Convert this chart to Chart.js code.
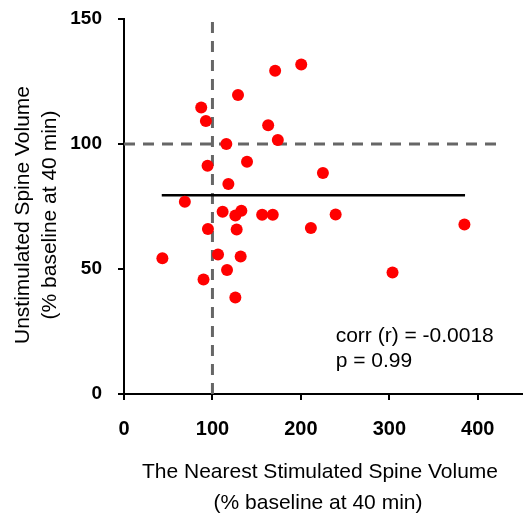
<!DOCTYPE html>
<html>
<head>
<meta charset="utf-8">
<script src="https://cdn.jsdelivr.net/npm/chart.js@4"></script>
<style>
  html, body { margin: 0; padding: 0; background: #fff; }
  #wrap { width: 528px; height: 513px; position: relative; }
</style>
</head>
<body>
<div id="wrap"><canvas id="chart"></canvas></div>
<script>
// Data
const stimVolume = [200.4, 170.9, 128.9, 87.3, 92.6, 163, 173.9, 115.7, 139.1, 94.5,
  224.9, 118, 68.8, 111.5, 132.7, 125.9, 156.2, 168.2, 239.3, 384.9,
  94.9, 127.4, 211.3, 43.4, 106.3, 131.9, 116.5, 89.9, 303.6, 125.9];
const unstimVolume = [131.8, 129.3, 119.6, 114.6, 109.2, 107.5, 101.6, 100, 92.9, 91.3,
  88.4, 84, 76.9, 72.9, 73.3, 71.4, 71.7, 71.7, 71.8, 67.8,
  66, 65.8, 66.4, 54.3, 55.8, 55, 49.6, 45.8, 48.6, 38.6];

const meanLineX = [42.7, 385.6];
const meanLineY = [79.5, 79.5];
const baselineVX = [100, 100];
const baselineVY = [0, 150];
const baselineHX = [0, 426];
const baselineHY = [100, 100];

const xTicks = [0, 100, 200, 300, 400];
const yTicks = [0, 50, 100, 150];

const statLines = ['corr (r) = -0.0018', 'p = 0.99'];
const statX = 239.3;
const statY = [21, 10.9];

const xTitle = ['The Nearest Stimulated Spine Volume', '(% baseline at 40 min)'];
const yTitle = ['Unstimulated Spine Volume', '(% baseline at 40 min)'];

const FONT = '"Liberation Sans", Arial, sans-serif';

function pairs(xs, ys) {
  return xs.map((x, i) => ({ x: x, y: ys[i] }));
}

// draws axis titles and the stats note
const labelsPlugin = {
  id: 'labels',
  afterDraw(chart) {
    const ctx = chart.ctx;
    const xs = chart.scales.x, ys = chart.scales.y;
    ctx.save();
    ctx.fillStyle = '#000';
    ctx.font = '21px ' + FONT;

    ctx.textAlign = 'left';
    ctx.textBaseline = 'alphabetic';
    statLines.forEach((t, i) => {
      ctx.fillText(t, xs.getPixelForValue(statX), ys.getPixelForValue(statY[i]));
    });

    ctx.textAlign = 'center';
    ctx.fillText(xTitle[0], 320, 478);
    ctx.fillText(xTitle[1], 318, 509);

    ctx.translate(0, 215);
    ctx.rotate(-Math.PI / 2);
    ctx.textBaseline = 'middle';
    ctx.fillText(yTitle[0], 0, 23);
    ctx.fillText(yTitle[1], 0, 50);
    ctx.restore();
  }
};

new Chart(document.getElementById('chart'), {
  type: 'scatter',
  data: {
    datasets: [
      {
        data: pairs(stimVolume, unstimVolume),
        backgroundColor: '#ff0000',
        borderColor: '#ff0000',
        borderWidth: 0,
        pointRadius: 6,
        order: 0
      },
      {
        type: 'line',
        data: pairs(meanLineX, meanLineY),
        borderColor: '#000',
        borderWidth: 2.5,
        pointRadius: 0,
        fill: false,
        order: 1
      },
      {
        type: 'line',
        data: pairs(baselineVX, baselineVY),
        borderColor: '#666',
        borderWidth: 3,
        borderDash: [11, 8],
        pointRadius: 0,
        fill: false,
        order: 2
      },
      {
        type: 'line',
        data: pairs(baselineHX, baselineHY),
        borderColor: '#666',
        borderWidth: 3,
        borderDash: [11, 8],
        pointRadius: 0,
        fill: false,
        order: 2
      }
    ]
  },
  options: {
    responsive: true,
    maintainAspectRatio: false,
    animation: false,
    layout: { padding: { top: 19, left: 0, right: 0, bottom: 0 } },
    plugins: {
      legend: { display: false },
      tooltip: { enabled: false }
    },
    scales: {
      x: {
        type: 'linear',
        min: 0,
        max: 450,
        afterBuildTicks: s => { s.ticks = xTicks.map(v => ({ value: v })); },
        afterFit: s => { s.height = 119; s.paddingLeft = 0; s.paddingRight = 0; },
        ticks: {
          color: '#000',
          padding: 17,
          font: { family: FONT, size: 20, weight: 'bold' }
        },
        grid: { drawOnChartArea: false, drawTicks: true, tickLength: 6, color: '#000', lineWidth: 2 },
        border: { display: true, color: '#000', width: 2 }
      },
      y: {
        type: 'linear',
        min: 0,
        max: 150,
        afterBuildTicks: s => { s.ticks = yTicks.map(v => ({ value: v })); },
        afterFit: s => { s.width = 124; s.paddingTop = 0; s.paddingBottom = 0; },
        ticks: {
          color: '#000',
          padding: 16,
          font: { family: FONT, size: 19, weight: 'bold' }
        },
        grid: { drawOnChartArea: false, drawTicks: true, tickLength: 6, color: '#000', lineWidth: 2 },
        border: { display: true, color: '#000', width: 2 }
      }
    }
  },
  plugins: [labelsPlugin]
});
</script>
</body>
</html>
